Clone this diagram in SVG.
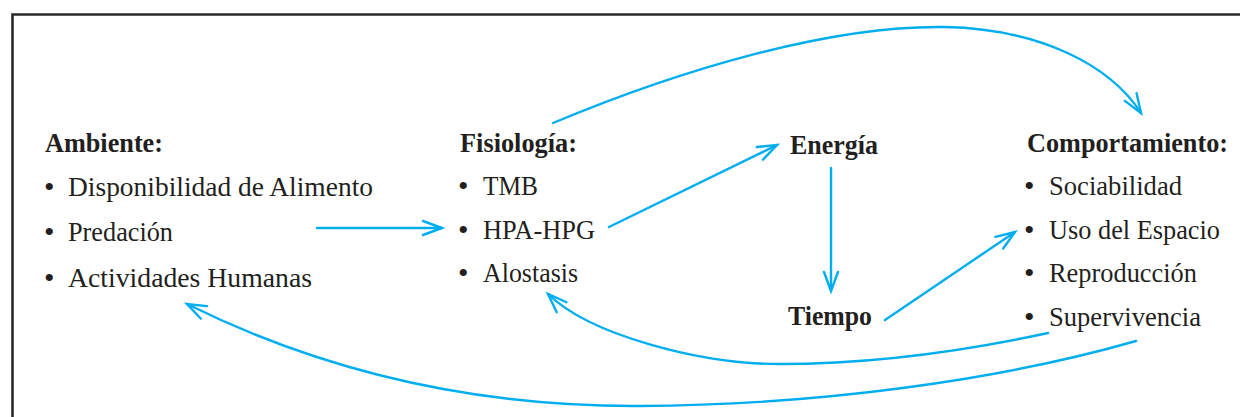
<svg xmlns="http://www.w3.org/2000/svg" width="1240" height="417" viewBox="0 0 1240 417">
<style>
text{font-family:"Liberation Serif","Times New Roman",serif;font-size:27.5px;fill:#231f20}
.h{font-weight:bold}
.b{font-size:30px}
.c{fill:none;stroke:#00aeef;stroke-width:2.4;stroke-linecap:round}
</style>
<defs>
<marker id="ah" markerUnits="userSpaceOnUse" markerWidth="26" markerHeight="20" refX="22" refY="10" orient="auto">
<path d="M3,3 L22,10 L3,17" fill="none" stroke="#00aeef" stroke-width="2.4" stroke-linecap="round" stroke-linejoin="miter"/>
</marker>
</defs>
<rect width="1240" height="417" fill="#ffffff"/>
<path d="M12.5,417 V14.5 H1240" fill="none" stroke="#2b2b2b" stroke-width="2.6"/>
<g id="ambiente">
<text class="h" x="45" y="152" textLength="118" lengthAdjust="spacingAndGlyphs">Ambiente:</text>
<text class="b" x="44" y="197">•</text>
<text x="68" y="196" textLength="305" lengthAdjust="spacingAndGlyphs">Disponibilidad de Alimento</text>
<text class="b" x="44" y="242">•</text>
<text x="68" y="241" textLength="105" lengthAdjust="spacingAndGlyphs">Predación</text>
<text class="b" x="44" y="288">•</text>
<text x="68" y="287" textLength="244" lengthAdjust="spacingAndGlyphs">Actividades Humanas</text>
</g>
<g id="fisiologia">
<text class="h" x="460" y="152" textLength="117" lengthAdjust="spacingAndGlyphs">Fisiología:</text>
<text class="b" x="458" y="196">•</text>
<text x="483" y="195" textLength="55" lengthAdjust="spacingAndGlyphs">TMB</text>
<text class="b" x="458" y="240">•</text>
<text x="483" y="239" textLength="112" lengthAdjust="spacingAndGlyphs">HPA-HPG</text>
<text class="b" x="458" y="283">•</text>
<text x="483" y="282" textLength="95" lengthAdjust="spacingAndGlyphs">Alostasis</text>
</g>
<g id="energia">
<text class="h" x="790" y="154" textLength="88" lengthAdjust="spacingAndGlyphs">Energía</text>
</g>
<g id="tiempo">
<text class="h" x="788" y="325" textLength="84" lengthAdjust="spacingAndGlyphs">Tiempo</text>
</g>
<g id="comportamiento">
<text class="h" x="1027" y="152" textLength="201" lengthAdjust="spacingAndGlyphs">Comportamiento:</text>
<text class="b" x="1024" y="196">•</text>
<text x="1049" y="195" textLength="133" lengthAdjust="spacingAndGlyphs">Sociabilidad</text>
<text class="b" x="1024" y="240">•</text>
<text x="1049" y="239" textLength="171" lengthAdjust="spacingAndGlyphs">Uso del Espacio</text>
<text class="b" x="1024" y="283">•</text>
<text x="1049" y="282" textLength="148" lengthAdjust="spacingAndGlyphs">Reproducción</text>
<text class="b" x="1024" y="327">•</text>
<text x="1049" y="326" textLength="152" lengthAdjust="spacingAndGlyphs">Supervivencia</text>
</g>
<g id="connectors">
<path class="c" d="M317,228 L442,228" marker-end="url(#ah)"/>
<path class="c" d="M609,227 L777,145" marker-end="url(#ah)"/>
<path class="c" d="M831,168 L831,291" marker-end="url(#ah)"/>
<path class="c" d="M885,320 L1015,232" marker-end="url(#ah)"/>
<path class="c" d="M553,123 C680,70 830,25 945,27 C1040,29 1110,65 1141,113" marker-end="url(#ah)"/>
<path class="c" d="M1048,333 C960,352 870,364 779,364 C700,364 590,335 548,294" marker-end="url(#ah)"/>
<path class="c" d="M1136,341 C1000,380 820,405 640,406 C450,407 300,360 187,304" marker-end="url(#ah)"/>
</g>
</svg>
